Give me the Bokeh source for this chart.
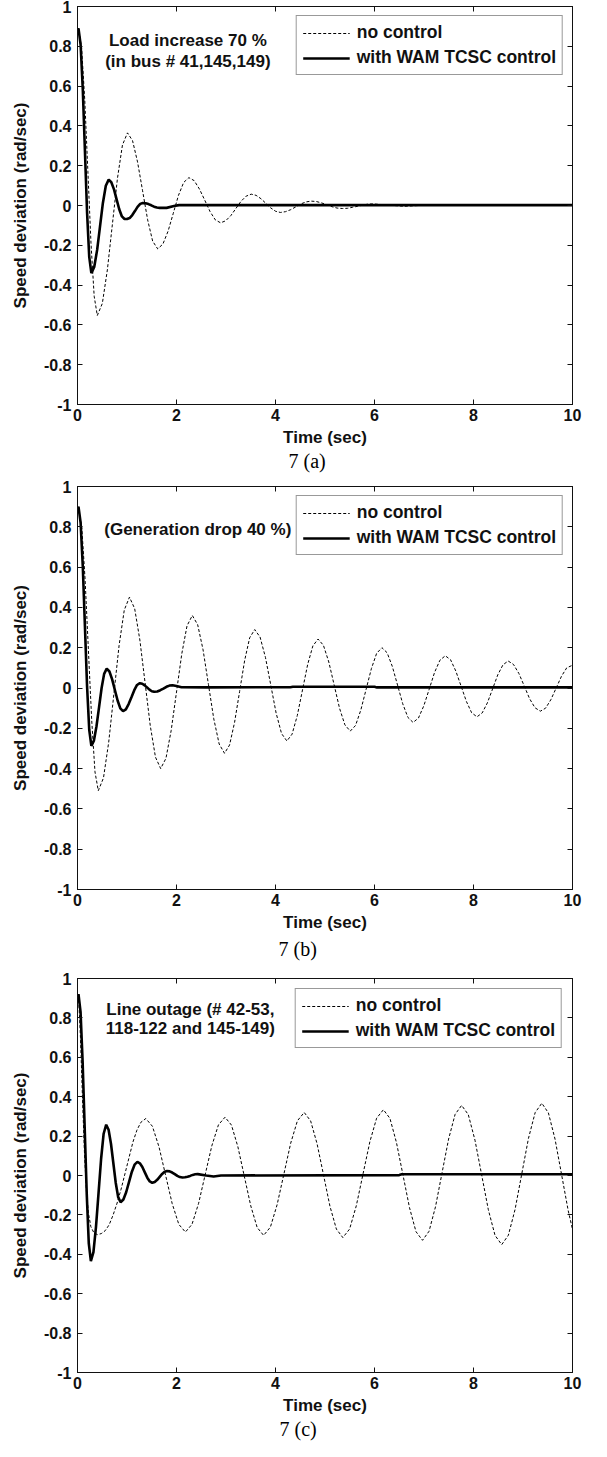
from bokeh.plotting import figure
from bokeh.models import (LinearAxis, FixedTicker, CustomJSTickFormatter, Legend,
                          LegendItem, Label, Range1d, Title)
from bokeh.layouts import column
from bokeh.embed import file_html
from bokeh.resources import INLINE

# ---------------- data ----------------
x_ticks = [0, 2, 4, 6, 8, 10]
y_ticks = [-1, -0.8, -0.6, -0.4, -0.2, 0, 0.2, 0.4, 0.6, 0.8, 1]
x_label = "Time (sec)"
y_label = "Speed deviation (rad/sec)"
series_names = ["no control", "with WAM TCSC control"]
captions = ["7 (a)", "7 (b)", "7 (c)"]
notes_a = ["Load increase 70 %", "(in bus # 41,145,149)"]
notes_b = ["(Generation drop 40 %)"]
notes_c = ["Line outage (# 42-53,", "118-122 and 145-149)"]

# (a) load increase
a_nc_t = [0.00, 0.02, 0.083, 0.147, 0.21, 0.273, 0.337,
          0.40, 0.502, 0.603, 0.705, 0.807, 0.908,
          1.01, 1.112, 1.213, 1.315, 1.417, 1.518,
          1.62, 1.725, 1.83, 1.935, 2.04, 2.145,
          2.25, 2.357, 2.463, 2.57, 2.677, 2.783,
          2.89, 2.993, 3.097, 3.2, 3.303, 3.407,
          3.51, 3.608, 3.707, 3.805, 3.903, 4.002,
          4.10, 4.203, 4.307, 4.41, 4.513, 4.617,
          4.72, 4.825, 4.93, 5.035, 5.14, 5.245,
          5.35, 5.453, 5.557, 5.66, 5.763, 5.867,
          5.97, 6.28, 6.6, 6.9, 10.0]
a_nc_v = [0.88, 0.89, 0.793, 0.529, 0.169, -0.192, -0.456,
          -0.553, -0.492, -0.324, -0.094, 0.136, 0.304,
          0.365, 0.326, 0.219, 0.074, -0.072, -0.179,
          -0.218, -0.194, -0.129, -0.039, 0.051, 0.116,
          0.140, 0.125, 0.083, 0.027, -0.030, -0.072,
          -0.087, -0.077, -0.051, -0.015, 0.021, 0.047,
          0.057, 0.051, 0.034, 0.011, -0.012, -0.029,
          -0.035, -0.031, -0.021, -0.007, 0.008, 0.018,
          0.022, 0.020, 0.013, 0.004, -0.006, -0.013,
          -0.015, -0.014, -0.009, -0.004, 0.002, 0.007,
          0.008, 0.002, -0.004, 0.0, 0.0]
a_wam_t = [0.00, 0.02, 0.063, 0.107, 0.15, 0.193, 0.237,
           0.28, 0.338, 0.397, 0.455, 0.513, 0.572,
           0.63, 0.683, 0.737, 0.79, 0.843, 0.897,
           0.95, 1.0,
           1.053, 1.107, 1.16, 1.213, 1.267,
           1.32, 1.377, 1.433, 1.49, 1.547, 1.603,
           1.66, 1.8, 1.95, 2.05, 10.0]
a_wam_v = [0.88, 0.89, 0.808, 0.583, 0.275, -0.033, -0.258,
           -0.34, -0.309, -0.223, -0.105, 0.013, 0.099,
           0.13, 0.117, 0.081, 0.031, -0.019, -0.055,
           -0.068, -0.068,
           -0.063, -0.048, -0.028, -0.007, 0.008,
           0.013, 0.011, 0.007, 0.001, -0.006, -0.010,
           -0.012, -0.012, -0.003, 0.002, 0.002]

# (b) generation drop
b_nc_t = [0.00, 0.02, 0.087, 0.153, 0.22, 0.287, 0.353,
          0.42, 0.525, 0.63, 0.735, 0.84, 0.945,
          1.05, 1.155, 1.26, 1.365, 1.47, 1.575,
          1.68, 1.787, 1.893, 2.0, 2.107, 2.213,
          2.32, 2.428, 2.537, 2.645, 2.753, 2.862,
          2.97, 3.072, 3.173, 3.275, 3.377, 3.478,
          3.58, 3.688, 3.797, 3.905, 4.013, 4.122,
          4.23, 4.335, 4.44, 4.545, 4.65, 4.755,
          4.86, 4.968, 5.077, 5.185, 5.293, 5.402,
          5.51, 5.617, 5.723, 5.83, 5.937, 6.043,
          6.15, 6.255, 6.36, 6.465, 6.57, 6.675,
          6.78, 6.888, 6.997, 7.105, 7.213, 7.322,
          7.43, 7.537, 7.643, 7.75, 7.857, 7.963,
          8.07, 8.175, 8.28, 8.385, 8.49, 8.595,
          8.70, 8.808, 8.917, 9.025, 9.133, 9.242,
          9.35, 9.457, 9.563, 9.67, 9.777, 9.883,
          10.0]
b_nc_v = [0.88, 0.89, 0.796, 0.54, 0.19, -0.16, -0.416,
          -0.51, -0.446, -0.27, -0.03, 0.211, 0.387,
          0.451, 0.394, 0.238, 0.026, -0.187, -0.343,
          -0.40, -0.349, -0.21, -0.02, 0.17, 0.309,
          0.36, 0.314, 0.189, 0.018, -0.153, -0.278,
          -0.324, -0.283, -0.171, -0.017, 0.137, 0.249,
          0.29, 0.253, 0.152, 0.014, -0.125, -0.226,
          -0.263, -0.229, -0.137, -0.01, 0.117, 0.209,
          0.243, 0.212, 0.129, 0.015, -0.10, -0.183,
          -0.214, -0.186, -0.11, -0.007, 0.096, 0.172,
          0.20, 0.175, 0.107, 0.015, -0.078, -0.146,
          -0.171, -0.149, -0.088, -0.006, 0.077, 0.138,
          0.16, 0.14, 0.084, 0.009, -0.067, -0.123,
          -0.143, -0.124, -0.074, -0.005, 0.065, 0.115,
          0.134, 0.117, 0.072, 0.01, -0.053, -0.098,
          -0.115, -0.10, -0.058, 0.0, 0.058, 0.10,
          0.113]
b_wam_t = [0.00, 0.02, 0.063, 0.107, 0.15, 0.193, 0.237,
           0.28, 0.332, 0.383, 0.435, 0.487, 0.538,
           0.59, 0.645, 0.70, 0.755, 0.81, 0.865,
           0.92, 0.977, 1.033, 1.09, 1.147, 1.203,
           1.26, 1.308, 1.357, 1.405, 1.453, 1.502,
           1.55, 1.612, 1.673, 1.735, 1.797, 1.858,
           1.92, 2.0, 2.1, 2.6, 4.3, 4.35, 6.0, 6.05, 10.0]
b_wam_v = [0.88, 0.90, 0.82, 0.603, 0.307, 0.01, -0.207,
           -0.287, -0.261, -0.191, -0.096, 0.0, 0.07,
           0.096, 0.082, 0.043, -0.01, -0.062, -0.101,
           -0.115, -0.106, -0.08, -0.046, -0.011, 0.015,
           0.024, 0.021, 0.013, 0.003, -0.008, -0.016,
           -0.019, -0.017, -0.011, -0.003, 0.006, 0.012,
           0.014, 0.01, 0.004, 0.003, 0.004, 0.006, 0.006, 0.003, 0.003]

# (c) line outage
c_nc_t = [0.00, 0.02, 0.06, 0.10, 0.14, 0.18, 0.22, 0.27, 0.33, 0.40,
          0.48, 0.56, 0.64, 0.72, 0.80, 0.88, 0.96, 1.04, 1.12, 1.20, 1.28,
          1.38, 1.513, 1.647, 1.78, 1.913, 2.047,
          2.18, 2.313, 2.447, 2.58, 2.713, 2.847,
          2.98, 3.11, 3.24, 3.37, 3.50, 3.63,
          3.76, 3.897, 4.033, 4.17, 4.307, 4.443,
          4.58, 4.71, 4.84, 4.97, 5.10, 5.23,
          5.36, 5.497, 5.633, 5.77, 5.907, 6.043,
          6.18, 6.312, 6.443, 6.575, 6.707, 6.838,
          6.97, 7.102, 7.233, 7.365, 7.497, 7.628,
          7.76, 7.895, 8.03, 8.165, 8.30, 8.435,
          8.57, 8.705, 8.84, 8.975, 9.11, 9.245,
          9.38, 9.513, 9.647, 9.78, 9.913, 10.0]
c_nc_v = [0.90, 0.92, 0.70, 0.40, 0.12, -0.08, -0.19, -0.26, -0.29, -0.30,
          -0.295, -0.28, -0.25, -0.20, -0.14, -0.07, 0.01, 0.09, 0.17, 0.23, 0.27,
          0.289, 0.25, 0.145, 0.001, -0.143, -0.248,
          -0.287, -0.248, -0.141, 0.005, 0.15, 0.257,
          0.296, 0.256, 0.146, -0.004, -0.154, -0.264,
          -0.304, -0.262, -0.148, 0.008, 0.164, 0.278,
          0.32, 0.277, 0.161, 0.003, -0.156, -0.272,
          -0.315, -0.272, -0.153, 0.01, 0.172, 0.291,
          0.334, 0.29, 0.168, 0.003, -0.163, -0.285,
          -0.329, -0.283, -0.158, 0.014, 0.185, 0.31,
          0.356, 0.309, 0.179, 0.003, -0.174, -0.304,
          -0.351, -0.303, -0.172, 0.008, 0.188, 0.319,
          0.367, 0.318, 0.185, 0.004, -0.178, -0.273]
c_wam_t = [0.00, 0.02, 0.062, 0.103, 0.145, 0.187, 0.228,
           0.27, 0.322, 0.373, 0.425, 0.477, 0.528,
           0.58, 0.628, 0.677, 0.725, 0.773, 0.822,
           0.87, 0.927, 0.983, 1.04, 1.097, 1.153,
           1.21, 1.26, 1.31, 1.36, 1.41, 1.46,
           1.51, 1.56, 1.61, 1.66, 1.71, 1.76,
           1.81, 1.862, 1.913, 1.965, 2.017, 2.068,
           2.12, 2.172, 2.223, 2.275, 2.327, 2.378,
           2.43, 2.6, 2.75, 2.9, 6.5, 6.55, 10.0]
c_wam_v = [0.90, 0.92, 0.829, 0.581, 0.243, -0.096, -0.344,
           -0.435, -0.389, -0.262, -0.089, 0.085, 0.212,
           0.258, 0.232, 0.16, 0.061, -0.038, -0.11,
           -0.136, -0.122, -0.085, -0.034, 0.018, 0.055,
           0.069, 0.062, 0.043, 0.016, -0.011, -0.03,
           -0.037, -0.033, -0.022, -0.007, 0.008, 0.019,
           0.023, 0.021, 0.015, 0.007, -0.002, -0.008,
           -0.01, -0.009, -0.006, -0.002, 0.003, 0.006,
           0.007, 0.0, -0.005, 0.0, 0.002, 0.006, 0.006]

# ---------------- styling ----------------
FONT = "Liberation Sans"
SERIF = "Liberation Serif"
TICK_FS = "16px"
LAB_FS = "17px"
LEG_FS = "17.5px"

yfmt_code = "return (Math.round(tick*10)/10).toString();"


def style_axis(ax, show_labels=True):
    ax.major_tick_in = 5
    ax.major_tick_out = 0
    ax.minor_tick_line_color = None
    ax.axis_line_color = "#111111"
    ax.axis_line_width = 1
    ax.major_tick_line_color = "#111111"
    ax.major_tick_line_width = 1
    ax.major_label_text_font = FONT
    ax.major_label_text_font_style = "bold"
    ax.major_label_text_color = "#111111"
    ax.major_label_text_font_size = TICK_FS if show_labels else "0px"
    if not show_labels:
        ax.major_label_standoff = 0
        ax.major_label_text_alpha = 0


def make_panel(t_nc, v_nc, t_wam, v_wam, notes, note_x, note_ys, caption,
               cap_offset, cap_standoff, height, bl, br, bt, bb, leg_margin):
    p = figure(width=591, height=height, output_backend="svg", toolbar_location=None,
               x_range=Range1d(0, 10), y_range=Range1d(-1, 1),
               min_border_left=bl, min_border_right=br,
               min_border_top=bt, min_border_bottom=bb)
    p.xgrid.visible = False
    p.ygrid.visible = False
    p.outline_line_color = "#111111"
    p.outline_line_width = 1
    p.background_fill_color = "white"
    p.border_fill_color = "white"

    xa = p.xaxis[0]
    ya = p.yaxis[0]
    xa.ticker = FixedTicker(ticks=x_ticks)
    ya.ticker = FixedTicker(ticks=y_ticks)
    ya.formatter = CustomJSTickFormatter(code=yfmt_code)
    style_axis(xa)
    style_axis(ya)
    xa.major_label_standoff = 4
    ya.major_label_standoff = 6
    xa.axis_label = x_label
    ya.axis_label = y_label
    for ax in (xa, ya):
        ax.axis_label_text_font = FONT
        ax.axis_label_text_font_style = "bold"
        ax.axis_label_text_font_size = LAB_FS
        ax.axis_label_text_color = "#111111"
    xa.axis_label_standoff = 4
    ya.axis_label_standoff = 11

    ra = LinearAxis(ticker=FixedTicker(ticks=y_ticks))
    style_axis(ra, show_labels=False)
    p.add_layout(ra, "right")
    ta = LinearAxis(ticker=FixedTicker(ticks=x_ticks))
    style_axis(ta, show_labels=False)
    p.add_layout(ta, "above")

    r_nc = p.line(t_nc, v_nc, line_color="black", line_width=1, line_dash="3 2")
    r_wam = p.line(t_wam, v_wam, line_color="black", line_width=2.6)

    leg = Legend(items=[LegendItem(label=series_names[0], renderers=[r_nc]),
                        LegendItem(label=series_names[1], renderers=[r_wam])],
                 location="top_right", margin=leg_margin, padding=6, spacing=4,
                 glyph_width=47, glyph_height=20, label_height=20, label_standoff=7,
                 label_text_font=FONT, label_text_font_style="bold",
                 label_text_font_size=LEG_FS, label_text_color="#111111",
                 border_line_color="#333333", border_line_width=1.5,
                 background_fill_color="white", background_fill_alpha=1)
    p.add_layout(leg)

    for txt, yv in zip(notes, note_ys):
        p.add_layout(Label(x=note_x, y=yv, text=txt, text_align="center",
                           text_baseline="middle", text_font=FONT,
                           text_font_style="bold", text_font_size=LAB_FS,
                           text_color="#111111"))

    cap = Title(text=caption, align="left", offset=cap_offset, standoff=cap_standoff,
                vertical_align="top", text_font=SERIF, text_font_style="normal",
                text_font_size="20px", text_color="black")
    p.add_layout(cap, "below")
    return p


pa = make_panel(a_nc_t, a_nc_v, a_wam_t, a_wam_v, notes_a, 2.23, [0.828, 0.722],
                captions[0], 211, 0, 474, 67, 11, 6, 70, 9)
pb = make_panel(b_nc_t, b_nc_v, b_wam_t, b_wam_v, notes_b, 2.43, [0.789],
                captions[1], 201, 6, 490, 77, 10, 12, 74, 9)
pc = make_panel(c_nc_t, c_nc_v, c_wam_t, c_wam_v, notes_c, 2.28, [0.844, 0.744],
                captions[2], 202, 0, 477, 76, 19, 14, 68, 10)

layout = column(pa, pb, pc, spacing=0)
open("out.html", "w").write(file_html(layout, INLINE))
